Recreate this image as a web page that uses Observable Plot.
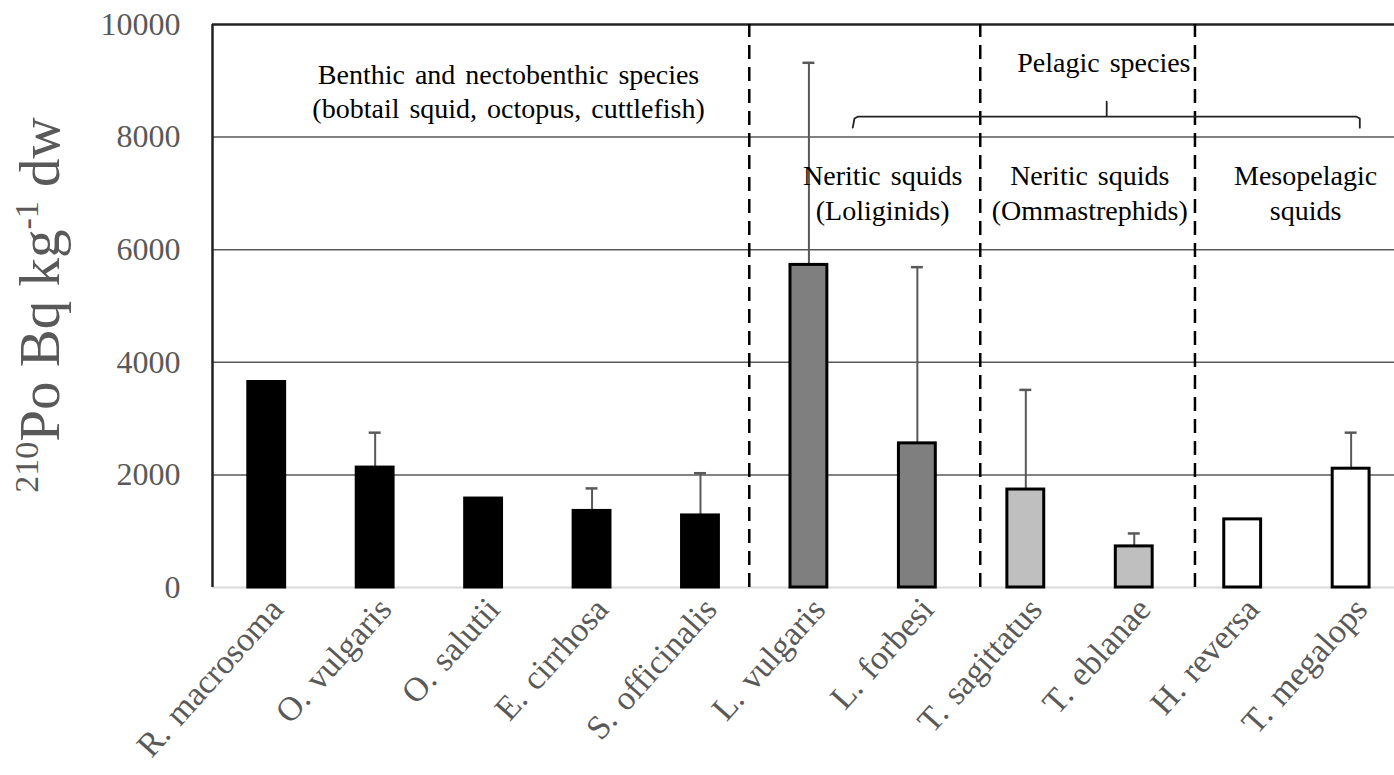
<!DOCTYPE html>
<html><head><meta charset="utf-8">
<script src="https://cdn.jsdelivr.net/npm/d3@7"></script>
<script src="https://cdn.jsdelivr.net/npm/@observablehq/plot@0.6"></script>
<style>body{margin:0;background:#fff} svg text{word-spacing:3px}</style>
</head><body><div id="chart"></div>
<script>
// ---- data ----
const species = ["R. macrosoma","O. vulgaris","O. salutii","E. cirrhosa","S. officinalis","L. vulgaris","L. forbesi","T. sagittatus","T. eblanae","H. reversa","T. megalops"];
const means = [3650, 2130, 1580, 1360, 1280, 5730, 2560, 1740, 730, 1210, 2110];
const sds   = [0, 620, 0, 400, 750, 3590, 3130, 1770, 230, 0, 640];
const barFills = ["#000000","#000000","#000000","#000000","#000000","#7f7f7f","#7f7f7f","#bfbfbf","#bfbfbf","#ffffff","#ffffff"];
const yTicks = [0, 2000, 4000, 6000, 8000, 10000];
const gridValues = [2000, 4000, 6000, 8000];
const separators = [4.45, 6.58, 8.56];
const annoText = ["Benthic and nectobenthic species","(bobtail squid, octopus, cuttlefish)","Pelagic species","Neritic squids","(Loliginids)","Neritic squids","(Ommastrephids)","Mesopelagic","squids"];
const annoX = [2.23, 2.23, 7.72, 5.68, 5.68, 7.59, 7.59, 9.58, 9.58];
const annoY = [9110, 8490, 9310, 7300, 6680, 7300, 6680, 7300, 6680];
const braceX = [5.404, 5.42, 5.45, 7.746, 7.746, 7.746, 10.05, 10.08, 10.08];
const braceY = [8167, 8330, 8363, 8363, 8630, 8363, 8363, 8330, 8167];

const data = species.map((s, i) => ({i, s, mean: means[i], sd: sds[i], fill: barFills[i]}));
const anno = annoText.map((t, k) => ({t, x: annoX[k], y: annoY[k]}));
const brace = braceX.map((x, k) => ({x, y: braceY[k]}));
const half = 0.17, cap = 0.055;

const plot = Plot.plot({
  width: 1394, height: 775,
  marginLeft: 212, marginRight: 0, marginTop: 24, marginBottom: 188,
  x: {type: "linear", domain: [-0.5, 10.4], axis: null},
  y: {domain: [0, 10000], axis: null},
  style: {fontFamily: "Liberation Serif", background: "#fff", overflow: "visible"},
  marks: [
    Plot.ruleY(gridValues, {stroke: "#595959", strokeWidth: 1.5}),
    Plot.ruleY([10000], {stroke: "#222", strokeWidth: 2.5}),
    Plot.ruleY([0], {stroke: "#d9d9d9", strokeWidth: 2}),
    Plot.ruleX([-0.5], {y1: 0, y2: 10000, stroke: "#222", strokeWidth: 2.5}),
    Plot.ruleX(separators, {y1: 0, y2: 10000, stroke: "#000", strokeWidth: 2.5, strokeDasharray: "14,8"}),
    Plot.ruleX(data.filter(d => d.sd), {x: "i", y1: "mean", y2: d => d.mean + d.sd, stroke: "#595959", strokeWidth: 2}),
    Plot.ruleY(data.filter(d => d.sd), {x1: d => d.i - cap, x2: d => d.i + cap, y: d => d.mean + d.sd, stroke: "#595959", strokeWidth: 2.5}),
    Plot.rectY(data, {x1: d => d.i - half, x2: d => d.i + half, y1: 0, y2: "mean", fill: "fill", stroke: "#000", strokeWidth: 3}),
    Plot.axisY({ticks: yTicks, tickSize: 0, tickPadding: 32, fontSize: 32, color: "#595959", label: null, tickFormat: d => String(d)}),
    Plot.axisX({ticks: d3.range(species.length), tickFormat: i => species[i], tickRotate: -48, tickSize: 0, tickPadding: 16, dx: 10, fontSize: 34, color: "#595959", label: null}),
    Plot.line(brace, {x: "x", y: "y", stroke: "#222", strokeWidth: 1.8}),
    Plot.text(anno, {x: "x", y: "y", text: "t", fontSize: 28, fill: "#000", fontFamily: "Liberation Serif"})
  ]
});

// y-axis title with superscripts
const svg = d3.select(plot);
const t = svg.append("text")
  .attr("transform", "translate(59,305) rotate(-90)")
  .attr("text-anchor", "middle")
  .attr("fill", "#595959")
  .attr("font-family", "Liberation Serif")
  .attr("font-size", 57)
  .style("word-spacing", "0px");
t.append("tspan").attr("font-size", 34).attr("dy", -21).text("210");
t.append("tspan").attr("dy", 21).text("Po Bq kg");
t.append("tspan").attr("font-size", 34).attr("dy", -21).text("-1");
t.append("tspan").attr("dy", 21).text(" dw");

document.getElementById("chart").append(plot);
</script>
</body></html>
